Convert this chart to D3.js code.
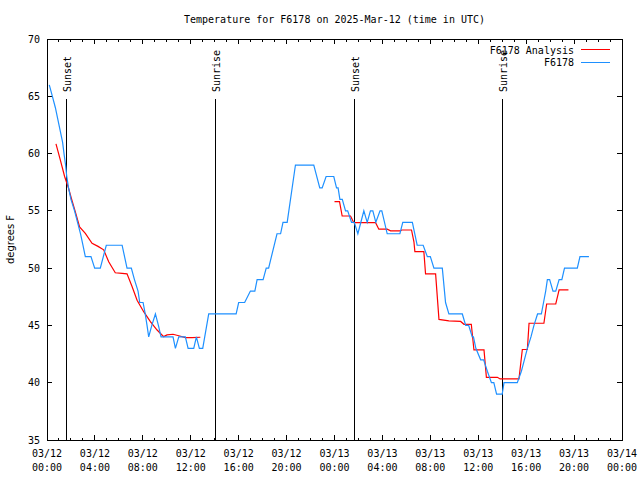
<!DOCTYPE html>
<html>
<head>
<meta charset="utf-8">
<script src="https://cdn.jsdelivr.net/npm/d3@7"></script>
<style>
  html, body { margin: 0; padding: 0; background: #fff; }
  svg { display: block; }
  text { font-family: "DejaVu Sans Mono", "Liberation Mono", monospace; font-size: 10px; fill: #000; }
</style>
</head>
<body>
<svg id="chart" width="640" height="480"></svg>
<script>
// ---- data (hours after 2025-03-12 00:00 UTC) ----
const stationName = "F6178";
const analysisName = "F6178 Analysis";
const titleText = "Temperature for F6178 on 2025-Mar-12 (time in UTC)";
const yLabelText = "degrees F";

const blueHours = [0.19,0.45,0.7,0.9,1.1,1.3,1.42,1.55,1.65,1.8,2.0,2.3,2.55,2.8,3.0,3.2,3.67,3.98,4.45,4.95,6.27,6.68,7.04,7.3,7.6,7.74,8.02,8.2,8.35,8.49,8.75,9.05,9.3,9.52,10.52,10.72,11.0,11.55,11.78,12.25,12.47,12.72,13.0,13.5,15.79,16.0,16.5,16.98,17.35,17.54,18.04,18.3,18.5,19.2,19.5,19.7,20.05,20.74,22.27,22.77,22.97,23.3,23.94,24.17,24.3,24.45,24.65,24.92,25.1,25.42,25.65,25.95,26.45,26.73,27.0,27.2,27.45,27.8,27.95,28.4,29.46,29.7,30.5,30.9,31.4,31.75,32.0,32.3,33.0,33.27,33.55,34.67,34.95,35.2,35.5,35.6,35.8,36.2,36.45,36.76,37.1,37.3,37.53,38.0,38.15,39.26,39.6,39.85,40.1,40.4,40.65,40.95,41.27,41.45,41.63,41.77,41.96,42.24,42.47,42.75,42.98,43.2,44.27,44.49,45.24];
const blueTemps = [66,65,64,63,62,61,60,59,58,57,56,55,54,53,52,51,51,50,50,52,52,50,50,49,48,47,47,46,45,44,45,46,45,44,44,43,44,44,43,43,44,43,43,46,46,47,47,48,48,49,49,50,50,53,53,54,54,59,59,57,57,58,58,57,57,56,56,55,55,54,54,53,55,54,55,55,54,55,55,53,53,54,54,52,52,51,51,50,50,47,46,46,45,45,44,44,43,42,42,41,40,40,39,39,40,40,41,42,43,44,45,46,46,47,48,49,49,48,48,49,49,50,50,51,51];

const redHours = [0.75,1.11,1.47,1.8,2.03,2.36,2.72,3.2,3.76,4.26,4.73,5.15,5.7,6.27,6.68,7.1,7.52,8.07,8.63,9.19,9.74,10.02,10.52,11.0,11.55,12.11,12.8,
                  null,
                  24.0,24.42,24.64,25.34,25.61,27.43,27.7,28.4,28.68,29.51,29.6,30.43,30.63,30.71,31.46,31.6,32.44,32.72,33.55,34.53,34.81,35.42,35.64,36.48,36.68,37.6,37.82,39.4,39.68,40.1,40.24,41.48,41.71,42.47,42.75,43.53];
const redTemps = [60.85,59.45,58.0,56.97,56.1,54.93,53.6,53.04,52.17,51.9,51.6,50.56,49.6,49.55,49.5,48.4,47.2,46.2,45.33,44.6,44.02,44.17,44.23,44.1,43.93,43.93,43.97,
                  null,
                  55.8,55.8,54.55,54.55,53.97,53.97,53.4,53.4,53.25,53.25,53.33,53.33,52.3,51.44,51.44,49.5,49.5,45.53,45.4,45.35,45.1,45.1,42.86,42.86,40.47,40.47,40.33,40.33,42.9,42.9,45.19,45.19,46.87,46.87,48.1,48.1];

const eventLabels = ["Sunset","Sunrise","Sunset","Sunrise"];
const eventHours = [1.64, 14.05, 25.65, 38.01];

const yTicks = [35,40,45,50,55,60,65,70];

// ---- layout ----
const L = 47, R = 622, T = 39, B = 440;
const base = Date.UTC(2025, 2, 12, 0, 0);
const toDate = h => new Date(base + h * 3600e3);

const x = d3.scaleUtc().domain([new Date(base), new Date(Date.UTC(2025, 2, 14, 0, 0))]).range([L, R]);
const y = d3.scaleLinear().domain([35, 70]).range([B, T]);

const svg = d3.select("#chart");

// frame
svg.append("rect").attr("x", L).attr("y", T).attr("width", R - L).attr("height", B - T)
  .attr("fill", "none").attr("stroke", "#000").attr("stroke-width", 1).attr("shape-rendering", "crispEdges");

// y ticks (left & right, inward)
const yg = svg.append("g").attr("shape-rendering", "crispEdges");
yTicks.forEach(v => {
  yg.append("line").attr("x1", L).attr("x2", L + 5).attr("y1", y(v)).attr("y2", y(v)).attr("stroke", "#000");
  yg.append("line").attr("x1", R).attr("x2", R - 5).attr("y1", y(v)).attr("y2", y(v)).attr("stroke", "#000");
  svg.append("text").attr("x", 40).attr("y", y(v)).attr("dy", "0.35em").attr("text-anchor", "end").text(v);
});

// x ticks
const majors = d3.utcHour.every(4).range(x.domain()[0], new Date(x.domain()[1].getTime() + 1));
const minors = d3.utcHour.every(1).range(x.domain()[0], new Date(x.domain()[1].getTime() + 1));
const xg = svg.append("g").attr("shape-rendering", "crispEdges");
minors.forEach(d => {
  const isMajor = d.getUTCHours() % 4 === 0;
  const len = isMajor ? 5 : 2.5;
  xg.append("line").attr("x1", x(d)).attr("x2", x(d)).attr("y1", B).attr("y2", B - len).attr("stroke", "#000");
  xg.append("line").attr("x1", x(d)).attr("x2", x(d)).attr("y1", T).attr("y2", T + len).attr("stroke", "#000");
});
const fmtDate = d3.utcFormat("%m/%d"), fmtTime = d3.utcFormat("%H:%M");
majors.forEach(d => {
  svg.append("text").attr("x", x(d)).attr("y", 457).attr("text-anchor", "middle").text(fmtDate(d));
  svg.append("text").attr("x", x(d)).attr("y", 471).attr("text-anchor", "middle").text(fmtTime(d));
});

// title & y label
svg.append("text").attr("x", (L + R) / 2).attr("y", 23).attr("text-anchor", "middle").text(titleText);
svg.append("text").attr("transform", `translate(14,${(T + B) / 2}) rotate(-90)`)
  .attr("text-anchor", "middle").style("font-family", "'DejaVu Sans', sans-serif").text(yLabelText);

// event lines
eventHours.forEach((h, i) => {
  const ex = x(toDate(h));
  svg.append("line").attr("x1", ex).attr("x2", ex).attr("y1", 99).attr("y2", B)
    .attr("stroke", "#000").attr("shape-rendering", "crispEdges");
  svg.append("text").attr("transform", `translate(${ex + 4.5},92) rotate(-90)`)
    .attr("text-anchor", "start").text(eventLabels[i]);
});

// data lines
const redData = redHours.map((h, i) => ({ h, t: redTemps[i] }));
const blueData = blueHours.map((h, i) => ({ h, t: blueTemps[i] }));
const line = d3.line().defined(d => d.h !== null && d.t !== null)
  .x(d => x(toDate(d.h))).y(d => y(d.t));

svg.append("path").datum(redData).attr("d", line).attr("fill", "none")
  .attr("stroke", "#ff0000").attr("stroke-width", 1.2);
svg.append("path").datum(blueData).attr("d", line).attr("fill", "none")
  .attr("stroke", "#1e90ff").attr("stroke-width", 1.2);

// legend
svg.append("text").attr("x", 574).attr("y", 53.5).attr("text-anchor", "end").text(analysisName);
svg.append("line").attr("x1", 581).attr("x2", 610).attr("y1", y(70) + 10.5).attr("y2", y(70) + 10.5)
  .attr("stroke", "#ff0000").attr("shape-rendering", "crispEdges");
svg.append("text").attr("x", 574).attr("y", 66).attr("text-anchor", "end").text(stationName);
svg.append("line").attr("x1", 581).attr("x2", 610).attr("y1", y(70) + 23).attr("y2", y(70) + 23)
  .attr("stroke", "#1e90ff").attr("shape-rendering", "crispEdges");
</script>
</body>
</html>
